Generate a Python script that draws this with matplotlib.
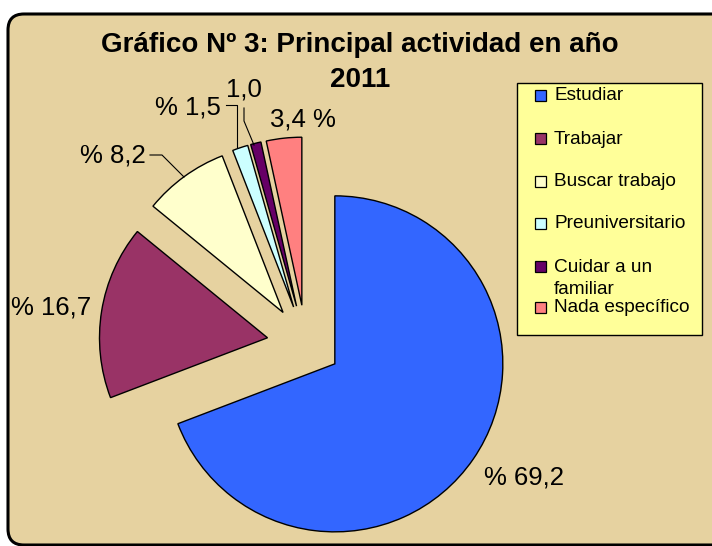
import matplotlib.pyplot as plt
from matplotlib.patches import FancyBboxPatch, Rectangle

categories = ['Estudiar', 'Trabajar', 'Buscar trabajo', 'Preuniversitario',
              'Cuidar a un\nfamiliar', 'Nada específico']
values = [69.2, 16.7, 8.2, 1.5, 1.0, 3.4]
value_labels = ['% 69,2', '% 16,7', '% 8,2', '% 1,5', '1,0', '3,4 %']
colors = ['#3366FF', '#993366', '#FFFFCC', '#CCFFFF', '#660066', '#FF8080']

plt.rcParams['font.family'] = ['Liberation Sans', 'DejaVu Sans']

fig = plt.figure(figsize=(7.12, 5.46), dpi=100)
fig.patch.set_facecolor('white')
ax = fig.add_axes([0, 0, 1, 1])
ax.set_xlim(0, 712)
ax.set_ylim(546, 0)  # pixel-like coords, y down
ax.axis('off')

# chart area with rounded border
frame = FancyBboxPatch((8, 14), 740, 531, boxstyle='round,pad=0,rounding_size=16',
                       facecolor='#E6D2A0', edgecolor='black', linewidth=2.2)
ax.add_patch(frame)

# pie (y axis inverted -> counterclock=True draws clockwise on screen)
explode = [35, 39, 39, 39, 39, 39]
wedges, _ = ax.pie(values, colors=colors, explode=explode, startangle=-90,
                   counterclock=True, center=(306, 344), radius=168,
                   wedgeprops=dict(edgecolor='black', linewidth=1.0),
                   frame=True)
ax.set_xlim(0, 712)
ax.set_ylim(546, 0)
ax.set_aspect('auto')
ax.axis('off')

# value labels
lab_pos = [(524, 477), (51, 307), (113, 155), (188, 107), (244, 89), (303, 120)]
for txt, (x, y) in zip(value_labels, lab_pos):
    ax.text(x, y, txt, fontsize=18.5, ha='center', va='center')

# leader lines
ax.plot([150, 162, 184], [155, 155, 177], color='black', lw=0.8)
ax.plot([226, 237, 237], [105, 105, 147], color='black', lw=0.8)
ax.plot([244, 244, 254], [108, 121, 145], color='black', lw=0.8)

# title
ax.text(360, 45, 'Gráfico Nº 3: Principal actividad en año', fontsize=20,
        fontweight='bold', ha='center', va='center')
ax.text(360, 80, '2011', fontsize=20, fontweight='bold', ha='center', va='center')

# legend
ax.add_patch(Rectangle((517, 83), 185, 252, facecolor='#FFFF99',
                       edgecolor='black', linewidth=1.0))
leg_y = [96, 139, 182, 224, 267, 308]
for name, c, y in zip(categories, colors, leg_y):
    ax.add_patch(Rectangle((535, y - 6), 11, 11, facecolor=c,
                           edgecolor='black', linewidth=0.9))
    lines = name.split('\n')
    for i, ln in enumerate(lines):
        ax.text(554, y + i * 23, ln, fontsize=13.7, ha='left', va='center')

fig.savefig('out.png', dpi=100)
